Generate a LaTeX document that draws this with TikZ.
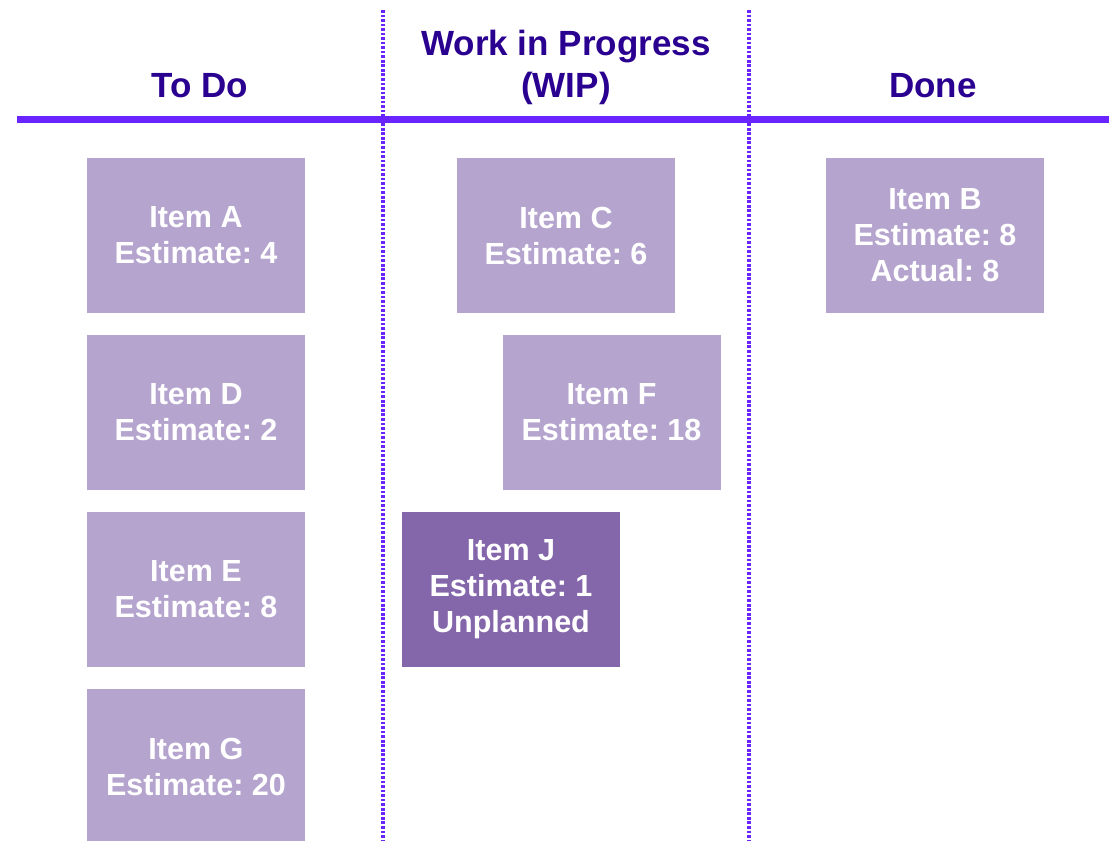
\documentclass[tikz,border=0pt]{standalone}
\usepackage{fontspec}
\setmainfont{Liberation Sans}
\usepackage{tikz}
\definecolor{itemfill}{HTML}{B4A4CE}
\definecolor{unplanned}{HTML}{8466AB}
\definecolor{headtext}{HTML}{2A0090}
\definecolor{rule}{HTML}{6A24FF}
\frenchspacing
\begin{document}
\begin{tikzpicture}[x=0.75pt, y=-0.75pt,
    item/.style={fill=itemfill, text=white, minimum width=163.5pt, minimum height=116.25pt,
      inner sep=0pt, align=center, font=\bfseries\fontsize{22.9}{27}\selectfont},
    head/.style={text=headtext, align=center, anchor=base, inner sep=0pt,
      font=\bfseries\fontsize{26.25}{31.5}\selectfont},
    sep/.style={rule, line width=2.4pt, dash pattern=on 2pt off 1.4pt}]
    \useasboundingbox (0,0) rectangle (1109,840);
    \clip (0,0) rectangle (1109,840);

    % Spalten
    \coordinate (L1t) at (383,10);
    \coordinate (L1b) at (383,840);
    \coordinate (L2t) at (749,10);
    \coordinate (L2b) at (749,840);
    \coordinate (Hl) at (17,119.5);
    \coordinate (Hr) at (1109,119.5);

    \draw[sep] (L1t) -- (L1b);
    \draw[sep] (L2t) -- (L2b);
    \draw[rule, line width=5.25pt] (Hl) -- (Hr);

    % Kopfzeile
    \node[head] (todo) at (200,97) {To Do};
    \node[head] (wip) at (566,97) {Work in Progress\\(WIP)};
    \node[head] (done) at (933,97) {Done};

    % Karten
    \node[item] (A) at (196,235.5) {Item A\\Estimate: 4};
    \node[item] (D) at (196,412.5) {Item D\\Estimate: 2};
    \node[item] (E) at (196,589.5) {Item E\\Estimate: 8};
    \node[item] (G) at (196,766.5) {Item G\\Estimate: 20};

    \node[item] (C) at (566,235.5) {Item C\\Estimate: 6};
    \node[item] (F) at (611.5,412.5) {Item F\\Estimate: 18};
    \node[item, fill=unplanned] (J) at (511,589.5) {Item J\\Estimate: 1\\Unplanned};

    \node[item] (B) at (935,235.5) {Item B\\Estimate: 8\\Actual: 8};
\end{tikzpicture}
\end{document}
